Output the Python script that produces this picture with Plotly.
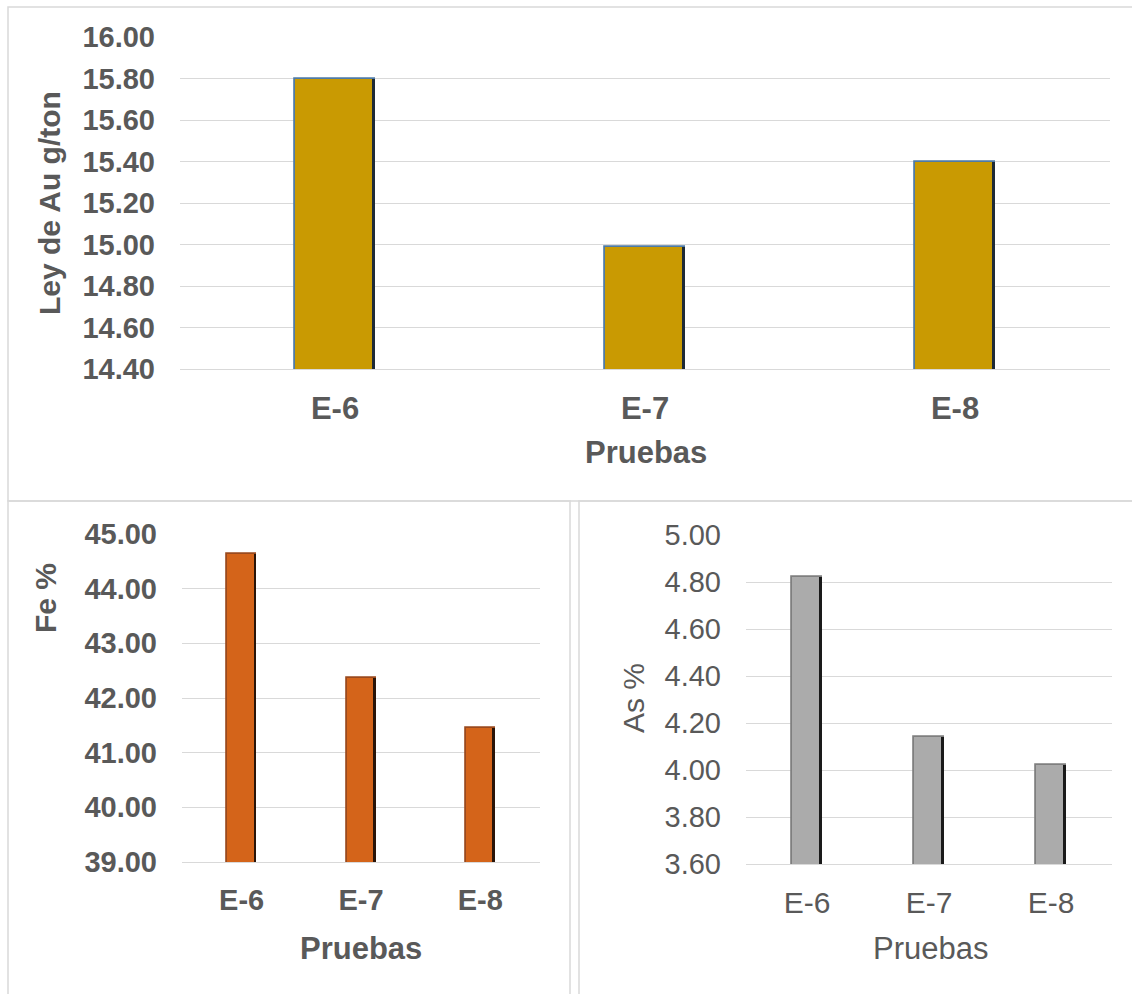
import plotly.graph_objects as go

# Data
pruebas = ["E-6", "E-7", "E-8"]
ley_au = [15.80, 14.99, 15.40]     # g/ton
fe_pct = [44.64, 42.37, 41.45]     # %
as_pct = [4.82, 4.14, 4.02]        # %

W, H = 1132, 994
FONT = "Liberation Sans, Arial, sans-serif"
TXT = "#595959"
GRID = "#d9d9d9"


def px_x(x):
    return x / W


def px_y(y):
    return 1 - y / H


fig = go.Figure()


def add_bars(xa, ya, values, fill, edge, dark, width, edge_w):
    # main bar body with lit top/left edge
    fig.add_trace(go.Bar(
        x=pruebas, y=values, xaxis=xa, yaxis=ya, width=width,
        marker=dict(color=fill, line=dict(color=edge, width=1.8)),
        showlegend=False, hoverinfo="skip",
    ))
    # dark shaded right edge
    fig.add_trace(go.Bar(
        x=pruebas, y=values, xaxis=xa, yaxis=ya, width=edge_w,
        offset=width / 2 - edge_w,
        marker=dict(color=dark, line=dict(width=0)),
        showlegend=False, hoverinfo="skip",
    ))


add_bars("x", "y", ley_au, "#C99A02", "#4F7BA6", "#1E2A36", 0.255, 0.009)
add_bars("x2", "y2", fe_pct, "#D4641A", "#9A4A1E", "#2A1408", 0.243, 0.021)
add_bars("x3", "y3", as_pct, "#ABABAB", "#7F7F7F", "#1A1A1A", 0.238, 0.021)


def f(size, bold=True):
    d = dict(family=FONT, size=size, color=TXT)
    if bold:
        d["weight"] = "bold"
    return d


def xaxis(domain, anchor, font, standoff):
    return dict(domain=domain, anchor=anchor, type="category",
                showgrid=False, zeroline=False, showline=True,
                linecolor=GRID, linewidth=1, ticks="",
                tickfont=font, ticklabelstandoff=standoff)


def yaxis(domain, anchor, rng, dtick, font):
    return dict(domain=domain, anchor=anchor, range=rng, dtick=dtick,
                tick0=rng[0], tickformat=".2f", showgrid=True,
                gridcolor=GRID, gridwidth=1, zeroline=False,
                showline=False, ticks="", tickfont=font,
                ticklabelstandoff=24)


fig.update_layout(
    width=W, height=H,
    margin=dict(l=0, r=0, t=0, b=0, autoexpand=False),
    paper_bgcolor="white", plot_bgcolor="white",
    barmode="overlay", bargap=0,
    xaxis=xaxis([px_x(180), px_x(1110)], "y", f(31), 12),
    yaxis=yaxis([px_y(369), px_y(37)], "x", [14.4, 16.0], 0.2, f(29)),
    xaxis2=xaxis([px_x(182), px_x(540)], "y2", f(29), 12),
    yaxis2=yaxis([px_y(862), px_y(534)], "x2", [39, 45], 1, f(29)),
    xaxis3=xaxis([px_x(746), px_x(1112)], "y3", f(30, False), 12),
    yaxis3=yaxis([px_y(864), px_y(535)], "x3", [3.6, 5.0], 0.2, f(29, False)),
)

# Panel frames
frame = dict(type="rect", xref="paper", yref="paper",
             line=dict(color=GRID, width=1.5), fillcolor="rgba(0,0,0,0)",
             layer="below")
fig.add_shape(**frame, x0=px_x(8), x1=px_x(1140), y0=px_y(501), y1=px_y(7))
fig.add_shape(**frame, x0=px_x(8), x1=px_x(570), y0=px_y(1000), y1=px_y(501))
fig.add_shape(**frame, x0=px_x(579), x1=px_x(1140), y0=px_y(1000), y1=px_y(501))


def label(text, x, y, font, angle=0):
    fig.add_annotation(text=text, xref="paper", yref="paper",
                       x=px_x(x), y=px_y(y), xanchor="center",
                       yanchor="middle", showarrow=False, font=font,
                       textangle=angle)


label("Ley de Au g/ton", 50, 203, f(30), -90)
label("Pruebas", 646, 452, f(31))
label("Fe %", 45, 598, f(30), -90)
label("Pruebas", 361, 948, f(31))
label("As %", 633, 698, f(30, False), -90)
label("Pruebas", 930, 948, f(31, False))

fig.write_html("out.html")
